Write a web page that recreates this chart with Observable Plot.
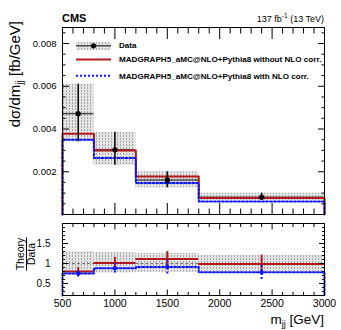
<!DOCTYPE html>
<html><head><meta charset="utf-8">
<script src="https://cdn.jsdelivr.net/npm/d3@7"></script>
<script src="https://cdn.jsdelivr.net/npm/@observablehq/plot@0.6"></script>
<style>
body{margin:0;background:#fff;}
#wrap{position:relative;width:341px;height:330px;font-family:"Liberation Sans",Arial,sans-serif;}
#wrap > svg{position:absolute;left:0;}
</style></head><body>
<svg width="0" height="0" style="position:absolute"><defs>
<pattern id="hatch" patternUnits="userSpaceOnUse" width="3" height="3">
<rect width="3" height="3" fill="#e4e4e4"/><rect x="0" y="0" width="1" height="2" fill="#a8a8a8"/>
</pattern></defs></svg>
<div id="wrap"></div>
<script>
// ---- data ----
const binEdges = [500, 800, 1200, 1800, 3000];
const binCenters = [650, 1000, 1500, 2400];
const dataVal = [0.00472, 0.00303, 0.00162, 0.00081];
const dataHi = [0.0061, 0.00385, 0.00200, 0.00100];
const dataLo = [0.0034, 0.00230, 0.00125, 0.00066];
const mgNoNLO = [0.00378, 0.00300, 0.00178, 0.00077];
const mgNLO = [0.00350, 0.00264, 0.00147, 0.00061];
const ratioNoNLO = [0.80, 1.01, 1.11, 0.99];
const ratioNoNLOErr = [0.10, 0.14, 0.19, 0.22];
const ratioNLO = [0.75, 0.88, 0.91, 0.78];
const ratioNLOErr = [0.09, 0.12, 0.17, 0.18];
const bandHi = [1.30, 1.27, 1.25, 1.20];
const bandLo = [0.72, 0.76, 0.78, 0.79];
// ---- axes ----
const xDomain = [500, 3000];
const topYDomain = [0, 0.00875];
const ratioYDomain = [0.2, 2.0];
const xMajor = [500, 1000, 1500, 2000, 2500, 3000];
const xMinor = d3.range(500, 3001, 100).filter(v => v % 500 !== 0);
const topYMajor = [0.002, 0.004, 0.006, 0.008];
const topYMinor = d3.range(1, 18).map(i => i * 0.0005).filter(v => Math.abs(v / 0.002 - Math.round(v / 0.002)) > 1e-6);
const ratioYMajor = [0.5, 1, 1.5];
const ratioYMinor = d3.range(2, 21).map(i => i / 10).filter(v => Math.abs(v * 2 - Math.round(v * 2)) > 1e-6);

const bins = binCenters.map((c, i) => ({
  c, x1: binEdges[i], x2: binEdges[i + 1],
  d: dataVal[i], dlo: dataLo[i], dhi: dataHi[i],
  r: ratioNoNLO[i], re: ratioNoNLOErr[i], b: ratioNLO[i], be: ratioNLOErr[i],
  blo: bandLo[i], bhi: bandHi[i]
}));
function stepVerts(vals, base) {
  const v = [{x: binEdges[0], y: base}];
  vals.forEach((val, i) => { v.push({x: binEdges[i], y: val}); v.push({x: binEdges[i + 1], y: val}); });
  v.push({x: binEdges[binEdges.length - 1], y: base});
  return v;
}
const RED = "#b5181c", BLUE = "#0a14ff";
const font = "Liberation Sans, Arial, sans-serif";
const blank = () => "";

function xAxes(maj, mino) {
  return ["bottom", "top"].flatMap(anchor => [
    Plot.axisX({anchor, ticks: xMajor, tickSize: -maj, tickFormat: blank, label: null}),
    Plot.axisX({anchor, ticks: xMinor, tickSize: -mino, tickFormat: blank, label: null})
  ]);
}
function yAxes(major, minor, maj, mino, fmt, fs, pad) {
  return [
    Plot.axisY({anchor: "left", ticks: major, tickSize: -maj, tickPadding: maj + pad, tickFormat: fmt, fontSize: fs, label: null}),
    Plot.axisY({anchor: "left", ticks: minor, tickSize: -mino, tickFormat: blank, label: null}),
    Plot.axisY({anchor: "right", ticks: major, tickSize: -maj, tickFormat: blank, label: null}),
    Plot.axisY({anchor: "right", ticks: minor, tickSize: -mino, tickFormat: blank, label: null})
  ];
}

const topPlot = Plot.plot({
  width: 341, height: 219,
  marginLeft: 62, marginRight: 17, marginTop: 27, marginBottom: 5,
  style: {fontFamily: font, background: "none", overflow: "visible"},
  x: {domain: xDomain},
  y: {domain: topYDomain},
  marks: [
    Plot.rect(bins, {x1: "x1", x2: "x2", y1: "dlo", y2: "dhi", fill: "url(#hatch)"}),
    Plot.ruleY(bins, {y: "d", x1: "x1", x2: "x2", stroke: "#4a4a4a", strokeWidth: 1.5}),
    Plot.line(stepVerts(mgNoNLO, 0), {x: "x", y: "y", stroke: RED, strokeWidth: 2}),
    Plot.line(stepVerts(mgNLO, 0), {x: "x", y: "y", stroke: BLUE, strokeWidth: 2, strokeDasharray: "2,2"}),
    Plot.ruleX(bins, {x: "c", y1: "dlo", y2: "dhi", stroke: "#000", strokeWidth: 1.5}),
    Plot.dot(bins, {x: "c", y: "d", r: 2.6, fill: "#000"}),
    ...xAxes(11, 5.5),
    ...yAxes(topYMajor, topYMinor, 7, 3.5, d => d.toFixed(3), 9.5, 6),
    Plot.frame({stroke: "#000", strokeWidth: 1})
  ]
});
topPlot.style.top = "0px";

const bottomPlot = Plot.plot({
  width: 341, height: 111,
  marginLeft: 62, marginRight: 17, marginTop: 4, marginBottom: 35,
  style: {fontFamily: font, background: "none", overflow: "visible"},
  x: {domain: xDomain},
  y: {domain: ratioYDomain},
  marks: [
    Plot.rect(bins, {x1: "x1", x2: "x2", y1: "blo", y2: "bhi", fill: "url(#hatch)"}),
    Plot.ruleY(bins, {y: () => 1, x1: "x1", x2: "x2", stroke: "#777", strokeWidth: 1, strokeDasharray: "3,2"}),
    Plot.ruleX(bins, {x: "c", y1: d => d.r - d.re, y2: d => d.r + d.re, stroke: RED, strokeWidth: 2}),
    Plot.ruleY(bins, {y: "r", x1: "x1", x2: "x2", stroke: RED, strokeWidth: 2}),
    Plot.line(stepVerts(ratioNLO, ratioYDomain[0]), {x: "x", y: "y", stroke: BLUE, strokeWidth: 2, strokeDasharray: "2,2"}),
    Plot.ruleX(bins, {x: "c", y1: d => d.b - d.be, y2: d => d.b + d.be, stroke: BLUE, strokeWidth: 2, strokeDasharray: "2,2"}),
    Plot.dot(bins, {x: "c", y: "b", r: 2, symbol: "square", fill: BLUE}),
    Plot.axisX({anchor: "bottom", ticks: xMajor, tickSize: 0, tickPadding: 4, fontSize: 10.5, tickFormat: d => String(d), label: null}),
    ...xAxes(5.5, 3),
    ...yAxes(ratioYMajor, ratioYMinor, 6, 3, d => String(d), 10, 12),
    Plot.frame({stroke: "#000", strokeWidth: 1})
  ]
});
bottomPlot.style.top = "219px";

const wrap = document.getElementById("wrap");
wrap.appendChild(topPlot);
wrap.appendChild(bottomPlot);

const ns = "http://www.w3.org/2000/svg";
const overlay = document.createElementNS(ns, "svg");
overlay.setAttribute("width", 341); overlay.setAttribute("height", 330);
overlay.style.top = "0px"; overlay.style.pointerEvents = "none";
overlay.setAttribute("font-family", font);
overlay.innerHTML = `
<text x="62" y="21.7" font-weight="bold" font-size="11">CMS</text>
<text x="324" y="21.7" text-anchor="end" font-size="9">137 fb<tspan dy="-3.5" font-size="6.5">-1</tspan><tspan dy="3.5"> (13 TeV)</tspan></text>
<text transform="translate(20,21) rotate(-90)" text-anchor="end" font-size="15">dσ/dm<tspan dy="3" font-size="10">jj</tspan><tspan dy="-3"> [fb/GeV]</tspan></text>
<g transform="translate(24,254) rotate(-90)">
<text text-anchor="middle" font-size="10.5">Theory</text>
<line x1="-16.5" x2="16.5" y1="2.5" y2="2.5" stroke="#000" stroke-width="1"/>
<text y="11" text-anchor="middle" font-size="10.5">Data</text>
</g>
<text x="324" y="323.5" text-anchor="end" font-size="13.5">m<tspan dy="3" font-size="9">jj</tspan><tspan dy="-3"> [GeV]</tspan></text>
<rect x="76" y="42" width="35" height="8" fill="url(#hatch)"/>
<line x1="76" x2="111" y1="45.8" y2="45.8" stroke="#4a4a4a" stroke-width="1.5"/>
<circle cx="93.5" cy="45.8" r="2.6" fill="#000"/>
<text x="119" y="48.3" font-size="8.1" font-weight="bold">Data</text>
<line x1="76" x2="111" y1="59.6" y2="59.6" stroke="${RED}" stroke-width="2"/>
<text x="119" y="62.3" font-size="8.1" font-weight="bold">MADGRAPH5_aMC@NLO+Pythia8 without NLO corr.</text>
<line x1="76" x2="111" y1="75.8" y2="75.8" stroke="${BLUE}" stroke-width="2" stroke-dasharray="2,2"/>
<text x="119" y="78.5" font-size="8.1" font-weight="bold">MADGRAPH5_aMC@NLO+Pythia8 with NLO corr.</text>
`;
wrap.appendChild(overlay);
</script>
</body></html>
